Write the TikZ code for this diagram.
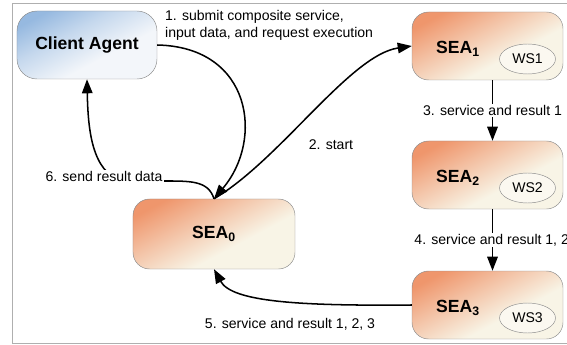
\documentclass[tikz,border=0pt]{standalone}
\usepackage{fontspec}
\setmainfont{Liberation Sans}
\usetikzlibrary{arrows.meta,shapes.geometric}
\definecolor{seaA}{RGB}{239,150,108}
\definecolor{seaB}{RGB}{248,244,230}
\definecolor{cliA}{RGB}{150,185,224}
\definecolor{cliB}{RGB}{243,246,250}
\definecolor{edgeG}{RGB}{140,140,140}
\definecolor{frameG}{RGB}{175,175,175}
\pgfdeclareverticalshading{seashade}{100bp}{color(0bp)=(seaB); color(40bp)=(seaB);
  color(60bp)=(seaA!55!seaB); color(76bp)=(seaA); color(100bp)=(seaA)}
\pgfdeclareverticalshading{clishade}{100bp}{color(0bp)=(cliB); color(40bp)=(cliB);
  color(60bp)=(cliA!50!cliB); color(76bp)=(cliA); color(100bp)=(cliA)}

\begin{document}
\begin{tikzpicture}[x=0.03cm, y=-0.03cm,
  every node/.style={font=\fontsize{12}{14.4}\selectfont},
  agent/.style={draw=edgeG, rounded corners=0.5cm, shading=seashade,
    shading angle=28, minimum width=4.53cm, minimum height=2.04cm},
  tag/.style={font=\fontsize{15}{18}\selectfont\bfseries},
  ws/.style={ellipse, draw=edgeG, fill=seaB!60!white, minimum width=1.68cm,
    minimum height=0.9cm, inner sep=0pt},
  arr/.style={-{Triangle[length=12pt,width=9pt]}, line width=1.3pt},
  lbl/.style={fill=white, inner sep=1pt}]
  \useasboundingbox (0,0) rectangle (567,345);
  \clip (0,0) rectangle (567,345);
  \draw[frameG] (12,3) rectangle (620,343);
  % client and the agent that runs the composite service
  \node[draw=edgeG, rounded corners=0.6cm, shading=clishade, shading angle=28,
    minimum width=4.2cm, minimum height=2.04cm, tag] (client) at (87,45) {Client Agent};
  \node[agent, minimum width=4.86cm, minimum height=2.1cm, tag] (sea0) at (214,234) {SEA\textsubscript{0}};
  % service execution agents with their web services
  \foreach \i/\y in {1/46,2/175,3/305}{
    \node[agent] (sea\i) at (487.5,\y) {};
    \node[tag, anchor=west] (name\i) at (432,\y+3) {SEA\textsubscript{\i}};
    \node[ws] (ws\i) at (527.5,\y+13) {WS\i};
  }
  % messages
  \draw[arr] (client.east) .. controls (252,47) and (264,140) .. (sea0.north);
  \node[anchor=north west, align=left] (m1) at (161,6) {1. submit composite service,\\input data, and request execution};
  \draw[arr] (sea0.north) .. controls (280,160) and (350,55) .. (sea1.west);
  \node (m2) at (331,145) {2. start};
  \draw[arr] ([xshift=0.15cm]sea1.south) -- ([xshift=0.15cm]sea2.north)
    node[lbl, midway] (m3) {3. service and result 1};
  \draw[arr] ([xshift=0.15cm]sea2.south) -- ([xshift=0.15cm]sea3.north)
    node[lbl, midway, anchor=west, xshift=-2.4cm] (m4) {4. service and result 1, 2};
  \draw[arr] (sea3.west) .. controls (300,306) and (232,302) .. (sea0.south);
  \node (m5) at (290,324) {5. service and result 1, 2, 3};
  \draw[arr] (sea0.north) .. controls (208,180) and (190,181) .. (160,181)
    -- (122,181) .. controls (92,172) and (88,130) .. (client.south);
  \node[lbl, anchor=base] (m6) at (104,181) {6. send result data};
\end{tikzpicture}
\end{document}
